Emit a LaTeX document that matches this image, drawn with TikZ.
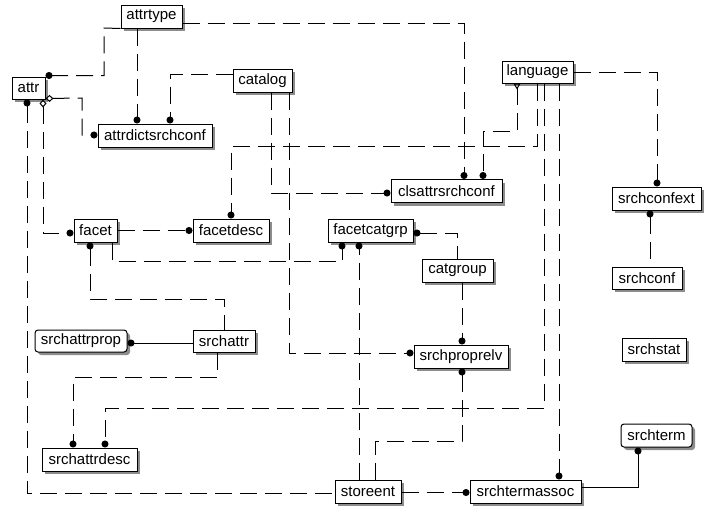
\documentclass[tikz,border=0pt]{standalone}
\usepackage{fontspec}
\setmainfont{Liberation Sans}
\usetikzlibrary{arrows.meta,shadows}

\begin{document}
\begin{tikzpicture}[x=1pt,y=-1pt,line width=1pt,
  ent/.style={draw,fill=white,inner sep=0pt,minimum height=23pt,
    font=\fontsize{15}{17}\selectfont,
    drop shadow={shadow xshift=3pt,shadow yshift=-3pt,fill=black!45,opacity=1}},
  dep/.style={ent,rounded corners=3pt},
  rel/.style={dash pattern=on 17pt off 8pt},
  dot/.tip={Circle[length=7pt]},
  hol/.tip={Diamond[open,length=8pt,width=7pt]},
  tri/.tip={Triangle[open,reversed,length=6pt,width=7pt]}]
  \useasboundingbox (0,0) rectangle (710,512);
  \node[ent,minimum width=61pt] (attrtype) at (151.5,16.5) {attrtype};
  \node[ent,minimum width=33pt,minimum height=22pt] (attr) at (28.5,88) {attr};
  \node[ent,minimum width=114pt] (attrdictsrchconf) at (155,135.5) {attrdictsrchconf};
  \node[ent,minimum width=59pt] (catalog) at (262.5,80.5) {catalog};
  \node[ent,minimum width=111pt] (clsattrsrchconf) at (446.5,191) {clsattrsrchconf};
  \node[ent,minimum width=71pt,minimum height=22pt] (language) at (537.5,72) {language};
  \node[ent,minimum width=89pt] (srchconfext) at (656.5,198.5) {srchconfext};
  \node[ent,minimum width=70pt,minimum height=22pt] (srchconf) at (647,278) {srchconf};
  \node[ent,minimum width=71pt] (catgroup) at (457.5,270.5) {catgroup};
  \node[ent,minimum width=85pt] (facetcatgrp) at (370.5,230.5) {facetcatgrp};
  \node[ent,minimum width=94pt] (srchproprelv) at (461,356.5) {srchproprelv};
  \node[ent,minimum width=43pt] (facet) at (95.5,230.5) {facet};
  \node[ent,minimum width=76pt] (facetdesc) at (231,230.5) {facetdesc};
  \node[dep,minimum width=92pt,minimum height=22pt] (srchattrprop) at (81,341) {srchattrprop};
  \node[ent,minimum width=62pt,minimum height=22pt] (srchattr) at (224,341) {srchattr};
  \node[ent,minimum width=95pt] (srchattrdesc) at (89.5,459.5) {srchattrdesc};
  \node[ent,minimum width=66pt] (storeent) at (368,491.5) {storeent};
  \node[ent,minimum width=111pt] (srchtermassoc) at (525.5,491.5) {srchtermassoc};
  \node[dep,minimum width=71pt] (srchterm) at (656.5,435.5) {srchterm};
  \node[ent,minimum width=64pt] (srchstat) at (654,349.5) {srchstat};

  \draw[rel,-dot] (attrtype.south west) -- (104,28) |- ([yshift=1pt]attr.north east);
  \draw[rel,-dot] (137,0 |- attrtype.south) -- (137,0 |- attrdictsrchconf.north);
  \draw[rel,-dot] ([yshift=-6.5pt]attrtype.east) -| (464,0 |- clsattrsrchconf.north);
  \draw[rel,-dot] ([yshift=6.5pt]catalog.west) -| (170,0 |- attrdictsrchconf.north);
  \draw[rel,-dot] (271,0 |- catalog.south) |- ([yshift=-2pt]clsattrsrchconf.west);
  \draw[rel,-dot] (289,0 |- catalog.south) |- ([yshift=3.5pt]srchproprelv.west);
  \draw[rel,tri-dot] (517,0 |- language.south) -- (517,131) -| (483,0 |- clsattrsrchconf.north);
  \draw[rel,-dot] (537,0 |- language.south) -- (537,146) -| (facetdesc.north);
  \draw[rel,-dot] (544,0 |- language.south) -- (544,408) -| (105,0 |- srchattrdesc.north);
  \draw[rel,-dot] (559,0 |- language.south) -- (559,0 |- srchtermassoc.north);
  \draw[rel,-dot] (language.east) -| (657,0 |- srchconfext.north);
  \draw[rel,dot-] (650,0 |- srchconfext.south) -- (650,0 |- srchconf.north);
  \draw[rel,hol-dot] ([yshift=1pt]attr.south east) -- (82,98) |- ([yshift=0.5pt]attrdictsrchconf.west);
  \draw[rel,hol-dot] (43,0 |- attr.south) |- ([yshift=-2.5pt]facet.west);
  \draw[rel,dot-] (27,0 |- attr.south) |- ([yshift=-1.5pt]storeent.west);
  \draw[rel,-dot] (facet.east) -- (facetdesc.west);
  \draw[rel,-dot] (112,0 |- facet.south) -- (112,261) -| (342,0 |- facetcatgrp.south);
  \draw[rel,dot-] (90,0 |- facet.south) -- (90,299) -| (srchattr.north);
  \draw[-dot] ([yshift=-2pt]srchattr.west) -- ([yshift=-2pt]srchattrprop.east);
  \draw[rel,-dot] (217,0 |- srchattr.south) -- (217,377) -| (73,0 |- srchattrdesc.north);
  \draw[rel,dot-] ([yshift=-2.5pt]facetcatgrp.east) -| (catgroup.north);
  \draw[rel,-dot] (462,0 |- catgroup.south) -- (462,0 |- srchproprelv.north);
  \draw[rel,-dot] (359,0 |- storeent.north) -- (359,0 |- facetcatgrp.south);
  \draw[rel,-dot] (375,0 |- storeent.north) -- (375,441) -| (462,0 |- srchproprelv.south);
  \draw[rel,-dot] ([yshift=-1pt]storeent.east) -- ([yshift=-1pt]srchtermassoc.west);
  \draw[-dot] ([yshift=4.5pt]srchtermassoc.east) -| (638,0 |- srchterm.south);
\end{tikzpicture}
\end{document}
